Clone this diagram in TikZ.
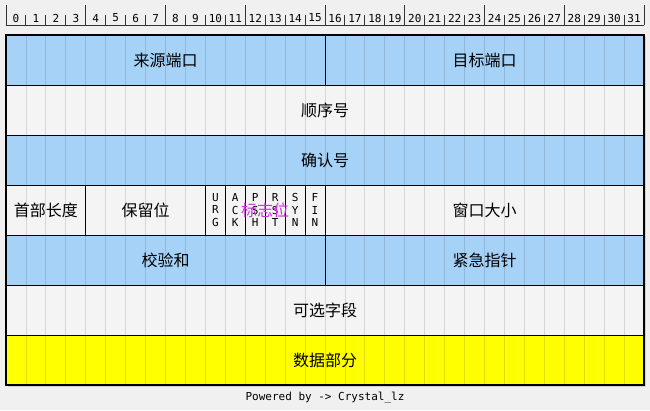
\documentclass[tikz,border=0pt]{standalone}
\usepackage{fontspec}
\setmainfont{DejaVu Sans}
\setmonofont{DejaVu Sans Mono}
\newfontfamily\cjk{Noto Sans CJK SC}
\usepackage{xcolor}
\usepackage{tikz}
\usetikzlibrary{positioning}
\definecolor{pagebg}{RGB}{240,240,240}
\definecolor{fieldblue}{RGB}{166,210,248}
\definecolor{fieldgray}{RGB}{244,244,244}
\definecolor{fieldyellow}{RGB}{255,255,0}
\definecolor{flagpurple}{RGB}{204,51,221}
\newcommand{\bitw}{19.9375pt}

\begin{document}
\begin{tikzpicture}[x=1pt, y=-1pt,
  field/.style={draw=black, line width=1pt, anchor=north west, minimum height=50pt, inner sep=0pt, outer sep=0pt, font=\cjk\fontsize{16}{18}\selectfont},
  flagbox/.style={field, minimum width=\bitw, align=center, font=\ttfamily\fontsize{11}{12.5}\selectfont},
  bitline/.style={black, opacity=0.12, line width=0.8pt},
  ruler/.style={black!80, line width=0.9pt},
  bitnum/.style={font=\ttfamily\fontsize{11}{12}\selectfont, inner sep=0pt}
]
\useasboundingbox[fill=pagebg] (0,0) rectangle (650,410);

% bit ruler
\draw[ruler] (6,25) -- (644,25);
\foreach \i in {0,...,32} {
  \pgfmathtruncatemacro{\m}{mod(\i,4)}
  \ifnum\m=0
    \draw[ruler] (6+\i*19.9375,5) -- (6+\i*19.9375,25);
  \else
    \draw[ruler] (6+\i*19.9375,15) -- (6+\i*19.9375,25);
  \fi
}
\foreach \i in {0,...,31}
  \node[bitnum] (bit\i) at (6+\i*19.9375+10,18) {\i};

% shadow
\fill[black!18] (8,37) rectangle (646,387);

% rows
\node[field, fill=fieldblue, minimum width=16*\bitw] (srcport) at (6,35) {来源端口};
\node[field, fill=fieldblue, minimum width=16*\bitw, right=0pt of srcport] (dstport) {目标端口};
\node[field, fill=fieldgray, minimum width=32*\bitw] (seqnum) at (srcport.south west) {顺序号};
\node[field, fill=fieldblue, minimum width=32*\bitw] (acknum) at (seqnum.south west) {确认号};
\node[field, fill=fieldgray, minimum width=4*\bitw] (hdrlen) at (acknum.south west) {首部长度};
\node[field, fill=fieldgray, minimum width=6*\bitw, right=0pt of hdrlen] (reserved) {保留位};
\node[flagbox, fill=fieldgray, right=0pt of reserved] (urg) {U\\R\\G};
\node[flagbox, fill=fieldgray, right=0pt of urg] (ack) {A\\C\\K};
\node[flagbox, fill=fieldgray, right=0pt of ack] (psh) {P\\S\\H};
\node[flagbox, fill=fieldgray, right=0pt of psh] (rst) {R\\S\\T};
\node[flagbox, fill=fieldgray, right=0pt of rst] (syn) {S\\Y\\N};
\node[flagbox, fill=fieldgray, right=0pt of syn] (fin) {F\\I\\N};
\node[field, fill=fieldgray, minimum width=16*\bitw, right=0pt of fin] (window) {窗口大小};
\node[field, fill=fieldblue, minimum width=16*\bitw] (checksum) at (hdrlen.south west) {校验和};
\node[field, fill=fieldblue, minimum width=16*\bitw, right=0pt of checksum] (urgptr) {紧急指针};
\node[field, fill=fieldgray, minimum width=32*\bitw] (options) at (checksum.south west) {可选字段};
\node[field, fill=fieldyellow, minimum width=32*\bitw] (payload) at (options.south west) {数据部分};

% faint bit lines
\foreach \i in {1,...,31}
  \draw[bitline] (6+\i*19.9375,35) -- (6+\i*19.9375,385);

\node[font=\cjk\fontsize{16}{18}\selectfont, text=flagpurple, inner sep=0pt] (flags) at (psh.east) {标志位};

\draw[line width=1.4pt] (srcport.north west) rectangle (payload.south east);

\node[font=\ttfamily\fontsize{11}{12}\selectfont] (credit) at (325,398) {Powered by -> Crystal\_lz};
\end{tikzpicture}
\end{document}
